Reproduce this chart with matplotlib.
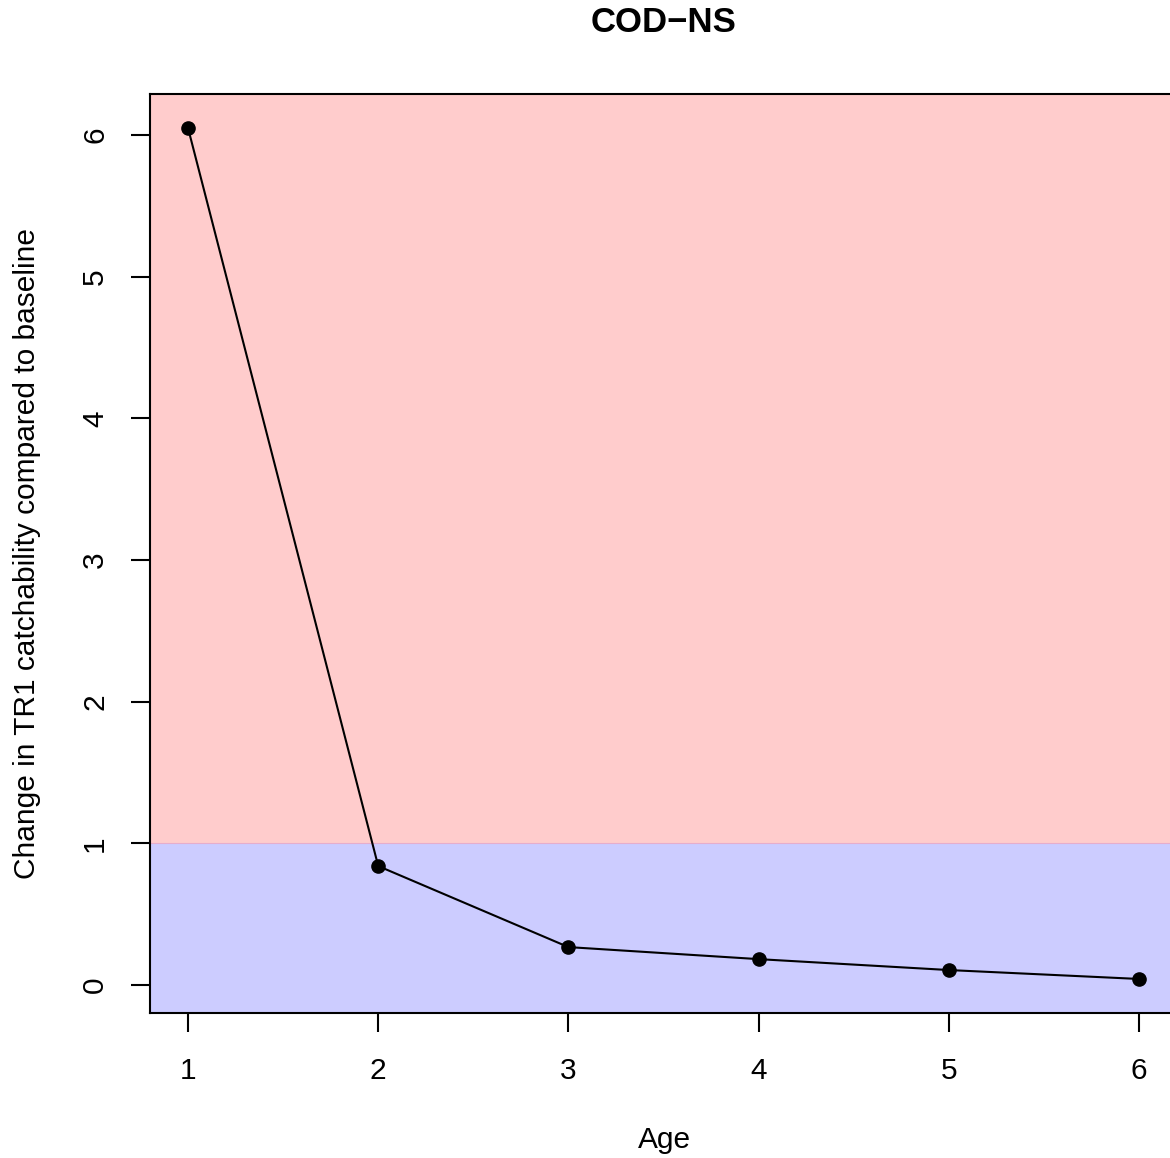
import matplotlib.pyplot as plt
import numpy as np

plt.rcParams['font.family'] = ['Liberation Sans', 'DejaVu Sans']

age = np.array([1, 2, 3, 4, 5, 6])
change = np.array([6.05, 0.84, 0.268, 0.183, 0.106, 0.043])
threshold = 1.0
title = "COD\u2212NS"
xlabel = "Age"
ylabel = "Change in TR1 catchability compared to baseline"

W, H = 1170, 1158
fig = plt.figure(figsize=(W / 100, H / 100), dpi=100)
# plot region runs a little past the right edge of the figure
ax = fig.add_axes([150 / W, 145 / H, 1027 / W, 919 / H])

# R-style 4% padding around the data range
pad_x = 0.04 * (age.max() - age.min())
pad_y = 0.04 * (change.max() - change.min())
ax.set_xlim(age.min() - pad_x, age.max() + pad_x)
ax.set_ylim(change.min() - pad_y, change.max() + pad_y)

ax.axhspan(threshold, change.max() + pad_y, color=(1.0, 0.8, 0.8), lw=0, zorder=0)
ax.axhspan(change.min() - pad_y, threshold, color=(0.8, 0.8, 1.0), lw=0, zorder=0)
ax.axhline(threshold, color=(0.9, 0.68, 0.8), lw=0.8, zorder=1)

ax.plot(age, change, color='black', lw=1.5, marker='o', ms=9.5, zorder=3)

ax.set_xticks(age)
ax.set_yticks(np.arange(0, 7))
ax.tick_params(axis='both', length=13.5, width=1.5, labelsize=21.5)
ax.tick_params(axis='x', pad=18)
ax.tick_params(axis='y', pad=16)
for lab in ax.get_yticklabels():
    lab.set_rotation(90)
    lab.set_va('center')
for s in ax.spines.values():
    s.set_linewidth(1.5)

fig.text(664 / W, 1 - 22 / H, title, ha='center', va='center',
         fontsize=25, fontweight='bold')
fig.text(664 / W, 1 - 1140 / H, xlabel, ha='center', va='center', fontsize=21.5)
fig.text(27 / W, 1 - 553 / H, ylabel, ha='center', va='center',
         rotation=90, fontsize=21.5)

fig.savefig('out.png', dpi=100)
